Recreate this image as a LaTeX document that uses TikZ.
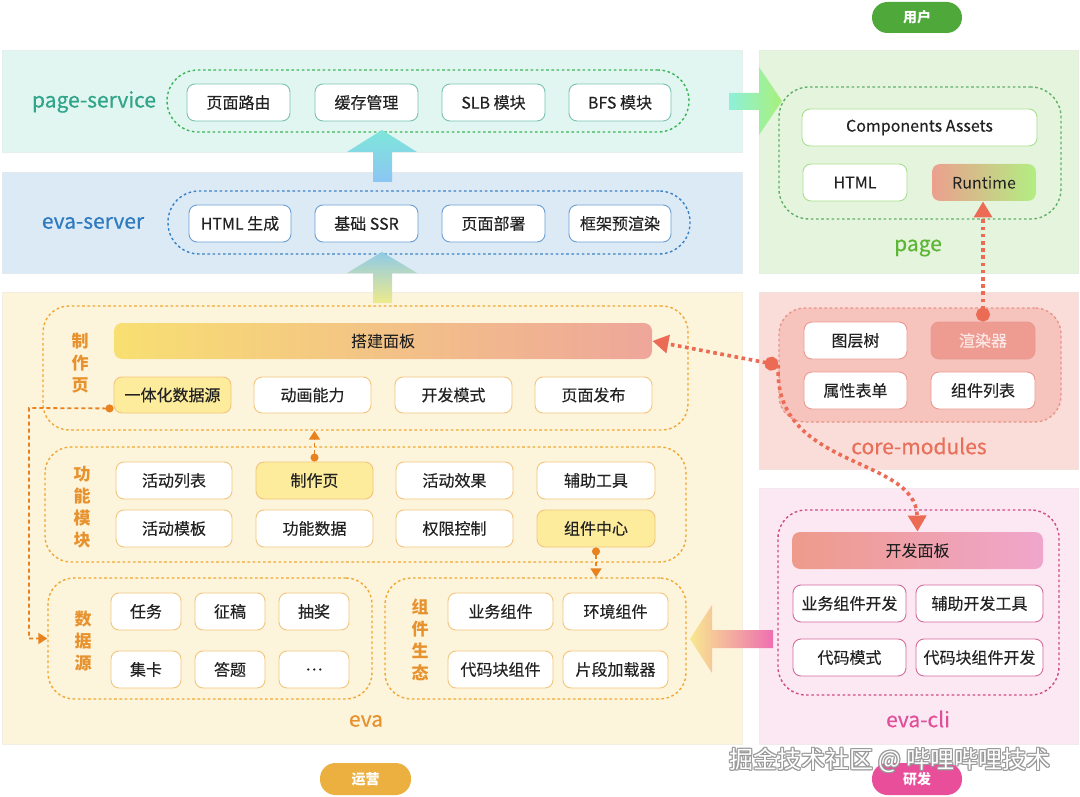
\documentclass[tikz,border=0pt]{standalone}
\usepackage{fontspec}
\setmainfont{Noto Sans CJK SC}
\newfontfamily\medfont{Noto Sans CJK SC}[FakeBold=0.5]
\newfontfamily\boxfont{Noto Sans CJK SC}[FakeBold=0.25]
\usetikzlibrary{arrows.meta}
\definecolor{psbg}{HTML}{E2F6F1}
\definecolor{esbg}{HTML}{DCEAF6}
\definecolor{evabg}{HTML}{FDF4DC}
\definecolor{pgbg}{HTML}{E5F5DD}
\definecolor{cmbg}{HTML}{FADCD8}
\definecolor{cmin}{HTML}{F6C4BD}
\definecolor{clibg}{HTML}{FCE8F2}
\definecolor{psc}{HTML}{2FA58A}
\definecolor{esc}{HTML}{2E7BBF}
\definecolor{evc}{HTML}{E8922E}
\definecolor{pgc}{HTML}{5DB534}
\definecolor{cmc}{HTML}{E8705A}
\definecolor{clic}{HTML}{E0509A}
\definecolor{psbox}{HTML}{79C2B2}
\definecolor{esbox}{HTML}{6B9FD2}
\definecolor{evbox}{HTML}{F2C57C}
\definecolor{pgbox}{HTML}{A8DF8E}
\definecolor{cmbox}{HTML}{E89A90}
\definecolor{clibox}{HTML}{D46A9E}
\definecolor{psd}{HTML}{3CB55A}
\definecolor{esd}{HTML}{3B82C4}
\definecolor{evd}{HTML}{F0A830}
\definecolor{pgd}{HTML}{5FAF6A}
\definecolor{cmd}{HTML}{E8958A}
\definecolor{clid}{HTML}{D04A88}
\definecolor{oline}{HTML}{E8821E}
\definecolor{rline}{HTML}{EC6B55}
\definecolor{yfill}{HTML}{FCEC9C}
\definecolor{txt}{HTML}{222222}
\definecolor{aCyan}{HTML}{7EE6DA}
\definecolor{aBlue}{HTML}{8CC6F3}
\definecolor{aBlue2}{HTML}{8ECBE6}
\definecolor{aYel}{HTML}{EEEA8C}
\definecolor{djL}{HTML}{F8DF72}
\definecolor{djR}{HTML}{EEA69A}
\definecolor{rtL}{HTML}{EBA08E}
\definecolor{rtR}{HTML}{B2EE82}
\definecolor{pgaL}{HTML}{8EF0D8}
\definecolor{pgaR}{HTML}{A8F07A}
\definecolor{xrqF}{HTML}{EE9C92}
\definecolor{xrqT}{HTML}{FBE8E4}
\definecolor{kfL}{HTML}{EE9B8B}
\definecolor{kfR}{HTML}{F0A6CC}
\definecolor{clL}{HTML}{F8E890}
\definecolor{clR}{HTML}{EE6FB0}
\definecolor{pUser}{HTML}{4FA83A}
\definecolor{pOps}{HTML}{EBB040}
\definecolor{pDev}{HTML}{E84E9A}
\tikzset{
  panel/.style={draw=#1!85!gray!60, fill=#1, line width=0.4, inner sep=0},
  grp/.style={draw=#1, line width=1.4, dash pattern=on 2.6pt off 2.6pt, inner sep=0},
  bx/.style={draw=#1, rounded corners=8, fill=white, line width=0.9, inner sep=0,
    text=txt, font=\boxfont\fontsize{16}{16}\selectfont},
  lbl/.style={text=#1, font=\medfont\fontsize{21}{21}\selectfont},
  vlbl/.style={text=evc, align=center, font=\fontsize{17}{22}\selectfont\bfseries},
  pill/.style={fill=#1, rounded corners=15.5, text=white, inner sep=0,
    font=\fontsize{14}{14}\selectfont\bfseries},
  oconn/.style={draw=oline, line width=1.8, dash pattern=on 4pt off 3pt,
    {Circle[length=8pt]}-{Triangle[length=9pt,width=11pt]}},
  rconn/.style={draw=rline, line width=3.6, dash pattern=on 3.6pt off 3.6pt,
    {Circle[length=14pt]}-{Triangle[length=16pt,width=18pt]}},
  rconnb/.style={draw=rline, line width=3.6, dash pattern=on 3.6pt off 3.6pt,
    -{Triangle[length=16pt,width=18pt]}},
  wm/.style={font=\fontsize{24}{24}\selectfont},
}
\newcommand\mybox[7][]{\node[#1,minimum width={(#4)-(#2)},minimum height={(#5)-(#3)}] (#6) at ({((#2)+(#4))/2},{((#3)+(#5))/2}) {#7};}
\begin{document}
\begin{tikzpicture}[x=1pt,y=-1pt]
\useasboundingbox (0,0) rectangle (1080,797);
\fill[white] (0,0) rectangle (1080,797);

% ---------- panels ----------
\mybox[panel=psbg]{2}{50}{742}{152}{ps}{}
\mybox[panel=esbg]{2}{172}{742}{273}{es}{}
\mybox[panel=evabg]{2}{292}{742}{744}{eva}{}
\mybox[panel=pgbg]{759}{50}{1078}{273}{pg}{}
\mybox[panel=cmbg]{759}{292}{1078}{469}{cm}{}
\mybox[panel=clibg]{759}{488}{1078}{744}{cli}{}

% ---------- labels ----------
\node[lbl=psc] (psl) at (94,102) {page-service};
\node[lbl=esc] (esl) at (93,223) {eva-server};
\node[lbl=evc] (eval) at (366,721) {eva};
\node[lbl=pgc] (pgl) at (918,248) {page};
\node[lbl=cmc] (cml) at (919,446) {core-modules};
\node[lbl=clic] (clil) at (918,719) {eva-cli};

% ---------- page-service ----------
\mybox[grp=psd, rounded corners=31]{167}{70}{689}{132}{psg}{}
\mybox[bx=psbox]{187}{84}{290}{121}{ps1}{页面路由}
\mybox[bx=psbox]{315}{84}{418}{121}{ps2}{缓存管理}
\mybox[bx=psbox]{442}{84}{545}{121}{ps3}{SLB 模块}
\mybox[bx=psbox]{569}{84}{671}{121}{ps4}{BFS 模块}

% ---------- eva-server ----------
\mybox[grp=esd, rounded corners=31]{168}{191}{690}{254}{esg}{}
\mybox[bx=esbox]{189}{205}{291}{242}{es1}{HTML 生成}
\mybox[bx=esbox]{315}{205}{418}{242}{es2}{基础 SSR}
\mybox[bx=esbox]{442}{205}{545}{242}{es3}{页面部署}
\mybox[bx=esbox]{569}{205}{671}{242}{es4}{框架预渲染}

% ---------- up arrows ----------
\shade[top color=aCyan, bottom color=aBlue]
  (382,130) -- (417,152) -- (392,152) -- (392,182) -- (373,182) -- (373,152) -- (347,152) -- cycle;
\shade[top color=aBlue2, bottom color=aYel]
  (382,252) -- (417,273) -- (392,273) -- (392,303) -- (373,303) -- (373,273) -- (347,273) -- cycle;

% ---------- eva: 制作页 ----------
\mybox[grp=evd, rounded corners=26]{43}{306}{688}{430}{zzyg}{}
\node[vlbl] (zzyl) at (80,363) {制\\作\\页};
\mybox[bx=evbox, draw opacity=0, left color=djL, right color=djR]{114}{323}{652}{359}{djmb}{搭建面板}
\mybox[bx=evbox, fill=yfill]{114}{377}{231}{413}{ytsj}{一体化数据源}
\mybox[bx=evbox]{254}{377}{371}{413}{dhnl}{动画能力}
\mybox[bx=evbox]{395}{377}{512}{413}{kfms}{开发模式}
\mybox[bx=evbox]{535}{377}{652}{413}{ymfb}{页面发布}

% ---------- eva: 功能模块 ----------
\mybox[grp=evd, rounded corners=26]{45}{447}{686}{562}{gnmk}{}
\node[vlbl] (gnmkl) at (82,507) {功\\能\\模\\块};
\mybox[bx=evbox]{116}{462}{232}{499}{hdlb}{活动列表}
\mybox[bx=evbox, fill=yfill]{256}{462}{373}{499}{zzyb}{制作页}
\mybox[bx=evbox]{396}{462}{513}{499}{hdxg}{活动效果}
\mybox[bx=evbox]{537}{462}{655}{499}{fzgj}{辅助工具}
\mybox[bx=evbox]{116}{510}{232}{547}{hdmb}{活动模板}
\mybox[bx=evbox]{256}{510}{373}{547}{gnsj}{功能数据}
\mybox[bx=evbox]{396}{510}{513}{547}{qxkz}{权限控制}
\mybox[bx=evbox, fill=yfill]{537}{510}{655}{547}{zjzx}{组件中心}

% ---------- eva: 数据源 ----------
\mybox[grp=evd, rounded corners=26]{48}{578}{372}{699}{sjy}{}
\node[vlbl] (sjyl) at (83,641) {数\\据\\源};
\mybox[bx=evbox]{111}{593}{181}{630}{rw}{任务}
\mybox[bx=evbox]{195}{593}{265}{630}{zg}{征稿}
\mybox[bx=evbox]{279}{593}{349}{630}{cj}{抽奖}
\mybox[bx=evbox]{111}{651}{181}{688}{jk}{集卡}
\mybox[bx=evbox]{195}{651}{265}{688}{dt}{答题}
\mybox[bx=evbox]{279}{651}{349}{688}{more}{…}

% ---------- eva: 组件生态 ----------
\mybox[grp=evd, rounded corners=26]{385}{578}{686}{699}{zjst}{}
\node[vlbl] (zjstl) at (420,640) {组\\件\\生\\态};
\mybox[bx=evbox]{448}{593}{553}{630}{ywzj}{业务组件}
\mybox[bx=evbox]{563}{593}{668}{630}{hjzj}{环境组件}
\mybox[bx=evbox]{448}{651}{553}{688}{dmk}{代码块组件}
\mybox[bx=evbox]{563}{651}{668}{688}{pdjz}{片段加载器}

% ---------- page ----------
\node[pill=pUser, minimum width=90, minimum height=31] (yh) at (917,17.5) {用户};
\mybox[grp=pgd, rounded corners=30]{779}{87}{1061}{219}{pgg}{}
\mybox[bx=pgbox]{802}{109}{1037}{146}{ca}{Components Assets}
\mybox[bx=pgbox]{803}{164}{907}{201}{html}{HTML}
\mybox[bx=pgbox, draw opacity=0, left color=rtL, right color=rtR]{932}{164}{1036}{201}{rt}{Runtime}

% right arrow page-service -> page
\shade[left color=pgaL, right color=pgaR]
  (729,93) -- (759,93) -- (759,67) -- (782,101) -- (759,135) -- (759,110) -- (729,110) -- cycle;

% ---------- core-modules ----------
\mybox[grp=cmd, fill=cmin, rounded corners=26]{779}{308}{1061}{422}{cmg}{}
\mybox[bx=cmbox]{804}{322}{907}{359}{tcs}{图层树}
\mybox[bx=cmbox, fill=xrqF, text=xrqT]{931}{322}{1035}{359}{xrq}{渲染器}
\mybox[bx=cmbox]{804}{372}{907}{409}{sxbd}{属性表单}
\mybox[bx=cmbox]{931}{372}{1035}{409}{zjlb}{组件列表}

% ---------- eva-cli ----------
\mybox[grp=clid, rounded corners=28]{778}{510}{1059}{695}{clig}{}
\mybox[bx=clibox, draw opacity=0, left color=kfL, right color=kfR]{792}{532}{1043}{569}{kfmb}{开发面板}
\mybox[bx=clibox]{793}{585}{906}{622}{ywkf}{业务组件开发}
\mybox[bx=clibox]{916}{585}{1043}{622}{fzkf}{辅助开发工具}
\mybox[bx=clibox]{793}{639}{906}{676}{dmms}{代码模式}
\mybox[bx=clibox]{916}{639}{1043}{676}{dmkkf}{代码块组件开发}

% left arrow eva-cli -> 组件生态
\shade[left color=clL, right color=clR]
  (773,630) -- (712,630) -- (712,605) -- (690,639) -- (712,673) -- (712,648) -- (773,648) -- cycle;

% ---------- connectors ----------
\draw[oconn] ([yshift=5pt]ytsj.south west) -- (29,408) |- (sjy.west);
\draw[oconn] (zzyb.north) -- (zzyb.north |- zzyg.south);
\draw[oconn] (zjzx.south) -- (zjzx.south |- zjst.north);

\draw[rconn] (xrq.north) -- (xrq.north |- rt.south);
\draw[rconn] (cmg.west) -- (djmb.east);
\draw[rconnb] (cmg.west) .. controls (772,470) and (916,455) .. (kfmb.north);

% ---------- pills & watermark ----------
\node[pill=pOps, minimum width=91, minimum height=32] (yy) at (365.5,779) {运营};
\node[pill=pDev, minimum width=90, minimum height=32] (yf) at (917,779) {研发};
\foreach \dx/\dy in {-1/0,1/0,0/-1,0/1,-1/-1,1/1,1/-1,-1/1}
  \node[wm, text=gray!80] at (890+\dx,760+\dy) {掘金技术社区 @ 哔哩哔哩技术};
\node[wm, text=white] (wmk) at (890,760) {掘金技术社区 @ 哔哩哔哩技术};
\end{tikzpicture}
\end{document}
